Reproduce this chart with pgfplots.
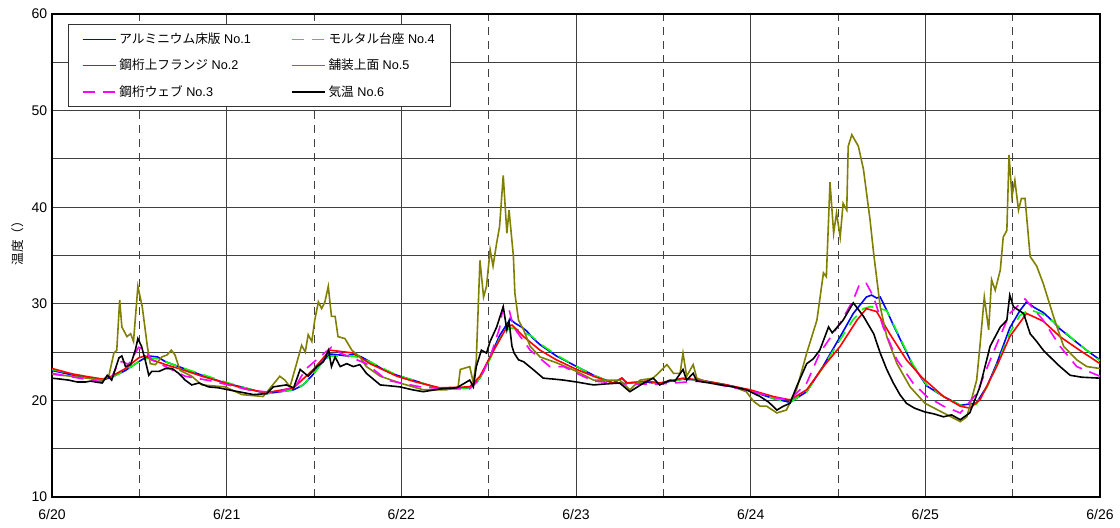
\documentclass[border=0pt]{standalone}
\usepackage{pgfplots}
\pgfplotsset{compat=1.18}
\usepackage{fontspec}
\setmainfont{Liberation Sans}
\newfontfamily\jp{Noto Sans CJK JP}
\definecolor{colA}{RGB}{0,0,255}
\definecolor{colB}{RGB}{255,0,0}
\definecolor{colC}{RGB}{255,0,255}
\definecolor{colD}{RGB}{0,255,0}
\definecolor{colE}{RGB}{128,128,0}
\definecolor{colF}{RGB}{0,0,0}
\begin{document}
\begin{tikzpicture}
\begin{axis}[
  name=ax,
  scale only axis,
  width=786pt, height=362.25pt,
  xmin=0, xmax=144, ymin=10, ymax=60,
  xtick={0,24,...,144},
  xticklabels={6/20,6/21,6/22,6/23,6/24,6/25,6/26},
  minor xtick={12,36,...,132},
  ytick={10,15,...,60},
  yticklabels={10,,20,,30,,40,,50,,60},
  xmajorgrids, xminorgrids, ymajorgrids,
  major grid style={black!75, line width=0.7pt},
  minor grid style={black!75, line width=0.7pt, dash pattern=on 6pt off 4.5pt},
  axis line style={line width=1.1pt},
  tick align=inside,
  major tick length=4pt, minor tick length=4pt,
  tick style={black!75, line width=0.7pt},
  /pgf/number format/assume math mode=true,
  ticklabel style={font=\fontsize{10.5}{12}\selectfont},
  xticklabel style={yshift=-6pt},
  ylabel={\jp\fontsize{9.5}{11}\selectfont 温度（）},
  ylabel style={at={(axis description cs:-0.033,0.532)}, anchor=center},
  legend cell align=left,
  legend style={at={(axis description cs:0.0153,0.979)}, anchor=north west,
    draw=black!80, line width=0.7pt, font=\fontsize{9.5}{11}\selectfont,
    row sep=6pt, inner xsep=10pt, inner ysep=4.5pt,
    /tikz/every even column/.append style={column sep=28pt}},
  legend columns=2,
  legend image code/.code={
    \path[draw=none] (0pt,0pt) -- (1pt,0pt);
    \draw[#1, line width=1.2pt] (0pt,0pt) -- (25pt,0pt);
    \draw[#1, line width=1.2pt] (0pt,0pt) -- (25pt,0pt);},
  every axis plot/.append style={line width=1.2pt},
]
% No.1 blue
\addplot[color=colA, solid] table {
0 23.1
3 22.6
6.9 22.1
8.2 22.4
10.1 23.1
11.9 24.0
13.2 24.6
14.5 24.5
15.6 24.0
17.4 23.5
20.6 22.6
23.8 21.8
26.5 21.3
29.5 20.7
33.2 21.1
34.5 21.6
35.9 22.7
37.0 23.9
38.2 24.8
39.5 24.7
40.5 24.6
41.4 24.8
42.5 24.5
43.7 24.0
45.5 23.2
47.4 22.6
50.0 22.0
53.3 21.2
57.4 21.3
58.8 22.3
60.2 24.5
61.5 26.7
62.5 27.9
63.0 28.4
63.6 28.0
64.5 27.6
65.2 27.2
66.0 26.5
67.0 25.8
69.3 24.6
72.1 23.5
74.4 22.6
77.1 21.8
78.3 22.3
79.0 21.8
81.7 21.9
83.5 21.7
85.0 22.0
86.7 22.2
89.0 22.1
92.7 21.6
95.9 21.0
99.1 20.2
101.4 19.8
103.7 20.9
106.0 23.6
108.3 26.6
110.1 29.0
111.9 30.7
112.6 30.9
113.3 30.6
113.8 30.7
114.7 29.3
115.6 27.8
116.5 26.4
118.3 23.6
120.2 21.5
122.5 20.4
124.8 19.5
127.0 19.7
128.5 21.5
129.8 23.8
131.6 27.5
133.0 29.3
133.9 30.2
135.0 29.6
136.2 29.1
137.5 28.2
138.5 27.4
140.8 26.0
142.5 25.0
144.0 24.2
};
\addlegendentry{{\jp アルミニウム床版} No.1}
% No.4 green
\addplot[color=colD, dash pattern=on 9pt off 6pt] table {
0 23.2
3 22.7
6.9 22.2
8.2 22.4
10.1 23.1
11.9 24.0
13.2 24.4
14.5 24.3
15.6 24.0
17.4 23.5
20.6 22.7
23.8 21.9
26.5 21.3
29.5 20.7
33.2 21.1
34.5 21.6
35.9 22.7
37.0 23.8
38.2 24.6
39.5 24.6
41.4 24.6
43.7 24.0
45.5 23.3
47.4 22.6
50.0 22.0
53.3 21.2
57.4 21.3
58.8 22.3
60.2 24.3
61.5 26.4
62.5 27.3
63.2 27.5
64.5 27.2
66.0 26.6
67.0 25.9
69.3 24.7
72.1 23.5
74.4 22.6
77.1 21.8
79.0 21.8
81.7 21.9
83.5 21.7
86.7 22.2
89.0 22.1
92.7 21.6
95.9 21.0
99.1 20.2
101.4 19.8
103.7 20.9
106.0 23.5
108.3 26.3
110.1 28.4
111.5 29.5
112.4 29.7
113.3 29.6
114.7 29.3
115.6 27.9
116.5 26.5
118.3 23.7
120.2 21.6
122.5 20.4
124.8 19.5
127.0 19.6
128.5 21.4
129.8 23.6
131.6 27.0
133.0 28.8
134.3 29.4
136.2 28.9
137.5 28.2
138.5 27.5
140.8 26.0
142.5 25.0
144.0 24.1
};
\addlegendentry{{\jp モルタル台座} No.4\hspace{26pt}}
% No.2 red
\addplot[color=colB, solid] table {
0 23.3
3 22.7
6.9 22.2
8.2 22.5
10.1 23.3
11.9 24.4
12.8 24.6
13.7 24.2
15.6 23.7
17.4 23.3
20.6 22.5
23.8 21.8
26.5 21.2
29.5 20.8
33.2 21.3
35.9 23.2
38.2 25.2
41.4 24.9
43.7 23.8
47.4 22.5
50.0 21.9
53.3 21.3
57.4 21.4
58.8 22.5
60.2 24.5
62.5 27.6
63.2 27.8
64.8 26.6
67.05 25.2
69.3 24.2
72.1 23.2
74.4 22.5
77.1 21.8
78.3 22.3
79.0 21.8
81.7 22.0
83.5 21.8
86.7 22.3
89.0 22.1
92.7 21.6
95.9 21.1
99.1 20.4
101.4 20.05
103.7 21.1
106.0 23.5
108.3 25.6
110.6 28.3
111.9 29.5
113.3 29.2
115.1 26.9
117.4 24.2
119.5 22.4
122.5 20.4
124.8 19.4
126.1 19.2
127.5 20.05
129.8 23.5
131.6 26.6
133.9 29.0
136.2 28.2
138.5 26.6
140.8 25.4
144.0 23.8
};
\addlegendentry{{\jp 鋼桁上フランジ} No.2}
% No.5 olive
\addplot[color=colE, solid] table {
0 22.7
2.7 22.5
6.9 22.1
7.8 22.5
8.5 24.9
8.9 25.2
9.3 30.4
9.6 27.6
10.3 26.6
10.8 26.9
11.2 26.1
11.8 31.8
12.4 29.7
13.1 25.6
13.5 23.8
14.2 23.7
15.1 24.5
15.8 24.7
16.4 25.2
16.9 24.7
17.6 23.1
19.2 22.5
20.6 21.6
23.8 21.4
26.1 20.6
29.0 20.4
29.95 21.25
31.3 22.5
32.0 22.1
32.7 21.4
33.6 23.8
34.3 25.7
34.8 25.0
35.2 26.8
35.7 26.1
36.1 28.3
36.6 30.2
37.05 29.5
37.5 30.2
37.96 31.8
38.4 28.7
38.9 28.7
39.3 26.6
40.25 26.4
41.2 25.2
42.3 24.5
43.2 23.5
45.1 22.5
47.8 21.8
51.0 21.1
54.2 21.1
55.8 21.4
56.1 23.2
57.4 23.5
57.9 21.8
58.3 24.2
58.8 34.5
59.3 30.7
59.7 31.8
60.2 35.6
60.6 33.9
61.1 36.3
61.5 38.0
62.0 43.3
62.5 37.3
62.8 39.7
63.4 34.9
63.6 31.1
64.1 28.3
64.8 27.3
65.7 25.6
67.05 24.5
69.3 23.9
72.1 23.0
74.4 22.1
78.0 22.1
79.4 21.1
80.8 22.1
82.6 22.3
84.5 23.7
85.4 22.8
86.3 22.8
86.7 24.9
87.2 22.5
88.1 23.7
88.6 22.3
90.4 21.8
93.6 21.4
95.4 20.9
96.4 19.9
97.3 19.4
98.2 19.4
99.6 18.7
100.9 19.0
102.3 21.1
103.7 24.9
105.1 28.3
106.0 33.2
106.4 32.8
106.9 42.6
107.4 37.3
107.8 39.4
108.3 36.9
108.7 40.4
109.2 39.7
109.4 46.3
109.9 47.5
110.8 46.3
111.5 43.9
112.4 38.7
112.9 35.2
113.8 29.7
114.7 26.6
116.1 23.8
117.9 21.4
119.95 19.7
122.5 18.7
124.8 17.8
125.7 18.3
127.05 22.1
127.5 25.6
128.1 30.7
128.7 27.3
129.1 32.5
129.6 31.4
130.3 33.5
130.7 36.9
131.2 37.6
131.5 45.4
131.9 41.1
132.3 42.8
132.8 39.7
133.2 40.9
133.7 40.9
134.4 34.9
135.3 33.9
136.2 32.1
137.6 28.7
139.0 25.6
140.8 24.2
142.2 23.5
144.0 23.3
};
\addlegendentry{{\jp 舗装上面} No.5\hspace{26pt}}
% No.3 magenta
\addplot[color=colC, dash pattern=on 9pt off 6pt] table {
0 22.8
3 22.4
6.9 21.9
8.2 22.4
9.2 24.0
9.8 24.0
10.5 23.7
11.9 25.5
12.8 25.2
13.7 24.2
15.6 23.5
18.3 22.5
22.0 22.0
27.5 21.0
31.0 20.8
33.5 21.5
34.8 23.2
36.8 24.5
38.4 25.5
39.6 24.9
43.2 23.8
46.0 22.1
50.6 21.4
54.0 21.2
57.4 21.2
58.8 22.2
60.2 24.5
61.5 27.5
62.0 29.7
62.7 29.7
63.4 27.6
65.7 25.2
68.4 23.5
70.3 23.5
72.1 22.8
74.4 22.0
79.0 21.7
83.5 21.7
89.0 22.0
95.9 21.0
99.1 20.3
101.4 20.05
103.7 21.8
105.5 24.9
108.3 28.0
110.1 30.4
111.0 32.1
111.9 32.1
112.9 30.7
114.2 27.6
116.1 24.2
118.3 21.8
120.2 20.4
122.5 19.4
124.8 18.7
127.05 20.7
129.3 24.9
131.6 29.0
133.7 30.5
136.2 28.3
138.5 25.6
140.8 23.5
144.0 22.5
};
\addlegendentry{{\jp 鋼桁ウェブ} No.3}
% No.6 black
\addplot[color=colF, solid] table {
0 22.3
1.2 22.2
2.3 22.1
3.5 21.9
4.6 21.9
5.3 22.0
6.0 21.9
6.9 21.8
7.6 22.6
8.2 22.1
9.2 24.4
9.6 24.6
10.1 23.5
10.8 23.7
11.45 25.2
11.8 26.4
12.3 25.6
12.8 24.2
13.3 22.6
13.7 23.0
14.7 23.0
15.6 23.3
16.5 23.3
17.4 22.8
18.3 22.1
19.2 21.6
20.2 21.8
21.5 21.4
22.9 21.3
24.2 21.1
25.6 20.9
27.7 20.6
29.5 20.7
30.4 21.4
32.2 21.6
33.2 21.3
34.1 23.2
35.2 22.5
36.4 23.5
37.3 24.0
38.0 25.2
38.4 23.5
38.9 24.5
39.6 23.5
40.5 23.8
41.4 23.5
42.3 23.7
43.2 22.8
45.1 21.6
46.5 21.5
47.8 21.4
49.5 21.1
51.0 20.9
53.5 21.2
55.6 21.3
57.4 22.1
57.9 21.4
58.3 23.5
59.0 25.2
59.7 24.9
60.2 26.1
61.1 27.6
62.0 29.7
62.5 27.3
62.8 28.2
63.2 25.6
63.5 24.9
64.1 24.2
64.8 24.0
66.1 23.2
67.5 22.3
69.0 22.2
70.3 22.1
72.1 21.9
74.4 21.6
76.0 21.7
78.0 21.8
79.4 20.9
81.3 21.8
82.6 22.3
83.5 21.6
84.9 22.1
85.6 22.0
86.7 23.2
87.2 22.1
88.1 22.8
88.6 22.0
90.4 21.8
92.0 21.6
93.6 21.4
95.4 21.1
97.3 20.4
98.5 19.8
99.6 19.0
100.5 19.4
101.4 19.7
102.3 21.4
103.7 23.8
104.6 24.3
105.5 25.2
106.7 27.6
107.2 27.0
107.8 27.5
108.7 28.3
110.1 30.1
110.8 29.4
111.5 28.7
112.9 26.9
113.8 24.9
114.7 23.2
115.6 21.8
116.5 20.6
117.4 19.7
118.5 19.2
119.95 18.8
121.2 18.6
122.5 18.3
123.6 18.5
124.8 18.0
126.1 18.7
127.5 21.4
128.9 25.6
130.3 27.6
131.2 28.3
131.6 30.9
132.1 29.7
133.5 29.0
134.4 26.9
135.3 26.1
136.2 25.2
137.4 24.3
138.5 23.5
139.9 22.6
141.5 22.4
144.0 22.3
};
\addlegendentry{{\jp 気温} No.6\hspace{26pt}}
\end{axis}
\pgfresetboundingbox
\path ([xshift=-39pt,yshift=-23.25pt]ax.south west) rectangle ([xshift=15pt,yshift=10.5pt]ax.north east);
\end{tikzpicture}
\end{document}
